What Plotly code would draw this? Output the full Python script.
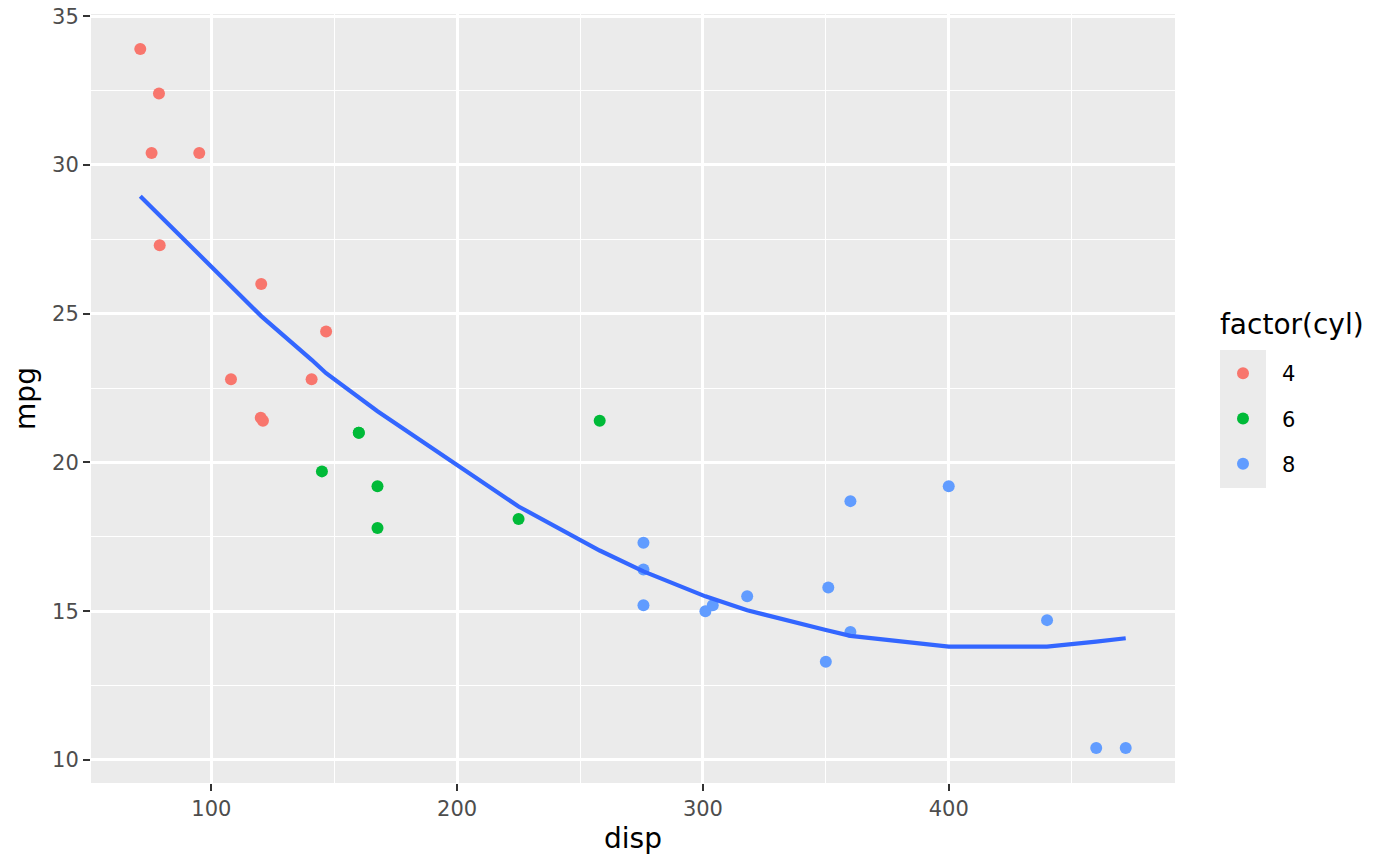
import plotly.graph_objects as go

# mtcars: displacement vs mpg, grouped by cylinders
disp_4 = [108, 146.7, 140.8, 78.7, 75.7, 71.1, 120.1, 79, 120.3, 95.1, 121]
mpg_4 = [22.8, 24.4, 22.8, 32.4, 30.4, 33.9, 21.5, 27.3, 26, 30.4, 21.4]

disp_6 = [160, 160, 258, 225, 167.6, 167.6, 145]
mpg_6 = [21, 21, 21.4, 18.1, 19.2, 17.8, 19.7]

disp_8 = [360, 360, 275.8, 275.8, 275.8, 472, 460, 440, 318, 304, 350, 400, 351, 301]
mpg_8 = [18.7, 14.3, 16.4, 17.3, 15.2, 10.4, 10.4, 14.7, 15.5, 15.2, 13.3, 19.2, 15.8, 15]

# smooth curve
smooth_x = [71.1, 95.1, 108, 120.3, 140.8, 146.7, 167.6, 225, 258, 275.8,
            301, 318, 350, 360, 400, 440, 460, 472]
smooth_y = [28.95, 26.99, 25.93, 24.92, 23.45, 23.0, 21.72, 18.52, 17.04, 16.34,
            15.5, 15.03, 14.37, 14.17, 13.81, 13.81, 13.98, 14.09]

groups = [
    ("4", disp_4, mpg_4, "#F8766D"),
    ("6", disp_6, mpg_6, "#00BA38"),
    ("8", disp_8, mpg_8, "#619CFF"),
]

FONT = "DejaVu Sans"

fig = go.Figure()
for name, xs, ys, col in groups:
    fig.add_trace(go.Scatter(
        x=xs, y=ys, mode="markers", name=name,
        legendgroup=name,
        marker=dict(size=12, color=col),
        hoverinfo="x+y+name",
    ))

fig.add_trace(go.Scatter(
    x=smooth_x, y=smooth_y, mode="lines",
    line=dict(color="#3366FF", width=4.2),
    showlegend=False, hoverinfo="skip",
))

axis_common = dict(
    showgrid=True, gridcolor="white", gridwidth=2.6,
    zeroline=False, showline=False,
    ticks="outside", ticklen=7, tickwidth=2, tickcolor="#333333",
    tickfont=dict(family=FONT, size=21, color="#4D4D4D"),
)

fig.update_layout(
    width=1400, height=866,
    margin=dict(l=91, r=225, t=14, b=83, autoexpand=False),
    paper_bgcolor="white", plot_bgcolor="#EBEBEB",
    font=dict(family=FONT, color="black"),
    xaxis=dict(
        range=[51.05, 492.05], tickvals=[100, 200, 300, 400],
        minor=dict(dtick=50, tick0=0, showgrid=True, gridcolor="white",
                   gridwidth=1.3, ticklen=0),
        title=dict(text="disp", font=dict(family=FONT, size=28), standoff=8),
        **axis_common,
    ),
    yaxis=dict(
        range=[9.225, 35.075], tickvals=[10, 15, 20, 25, 30, 35],
        minor=dict(dtick=2.5, tick0=0, showgrid=True, gridcolor="white",
                   gridwidth=1.3, ticklen=0),
        title=dict(text="mpg", font=dict(family=FONT, size=28), standoff=8),
        **axis_common,
    ),
    legend=dict(
        x=(1204 - 91) / (1175 - 91), xanchor="left",
        y=(783 - 353) / (783 - 14), yanchor="top",
        bgcolor="rgba(0,0,0,0)", itemwidth=68,
        font=dict(family=FONT, size=21, color="black"),
        tracegroupgap=15, itemclick=False, itemdoubleclick=False,
    ),
    showlegend=True,
)

# legend title and grey key background, placed like ggplot's guide
fig.add_annotation(
    text="factor(cyl)", xref="paper", yref="paper",
    x=(1218 - 91) / (1175 - 91), y=(783 - 324) / (783 - 14),
    xanchor="left", yanchor="middle", showarrow=False,
    font=dict(family=FONT, size=28, color="black"),
)
fig.add_shape(
    type="rect", xref="paper", yref="paper", layer="below",
    x0=(1220 - 91) / (1175 - 91), x1=(1266 - 91) / (1175 - 91),
    y0=(783 - 350) / (783 - 14), y1=(783 - 488) / (783 - 14),
    fillcolor="#EBEBEB", line=dict(width=0),
)

fig.write_html("out.html", config={"displayModeBar": False},
               post_script="document.body.style.margin='0';")
